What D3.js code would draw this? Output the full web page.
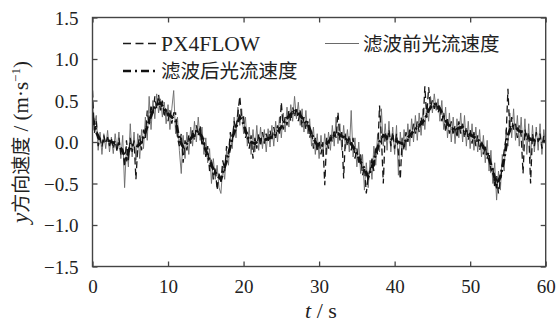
<!DOCTYPE html>
<html>
<head>
<meta charset="utf-8">
<script src="https://cdn.jsdelivr.net/npm/d3@7"></script>
<style>
  html, body { margin: 0; padding: 0; background: #fff; }
  svg { display: block; }
  text { fill: #222; }
</style>
</head>
<body>
<svg id="chart" width="557" height="327"></svg>
<script>
// Sampling interval of the velocity records (s)
const sampleStep = 0.25;

// Optical-flow velocity before filtering (m/s), one value every 0.25 s
const rawFlow = [
  0.45, 0.20, 0.32, -0.10,   0.12, -0.15, 0.10, -0.08,   0.14, -0.12, 0.06, -0.14,
  0.10, -0.10, 0.12, -0.20,  0.08, -0.55, -0.05, -0.30,  0.22, -0.18, 0.12, -0.22,
  0.10, -0.20, 0.15, -0.08,  0.30, 0.02, 0.55, 0.15,     0.50, 0.28, 0.58, 0.35,
  0.52, 0.30, 0.48, 0.22,    0.45, 0.15, 0.40, 0.62,     0.10, 0.30, -0.10, -0.38,
  0.08, -0.20, 0.12, -0.15,  0.18, -0.05, 0.25, 0.00,    0.30, 0.02, 0.18, -0.15,
  0.05, -0.25, -0.08, -0.50, -0.20, -0.45, -0.28, -0.55, -0.62, -0.30, -0.45, -0.10,
  -0.28, 0.08, -0.08, 0.30,  0.05, 0.42, 0.20, 0.40,     0.10, 0.30, -0.05, 0.18,
  -0.15, 0.15, -0.12, 0.20,  -0.10, 0.18, -0.08, 0.15,   -0.12, 0.16, -0.06, 0.20,
  -0.05, 0.25, 0.00, 0.30,   0.05, 0.35, 0.12, 0.42,     0.18, 0.45, 0.25, 0.55,
  0.28, 0.48, 0.20, 0.40,    0.12, 0.38, 0.10, 0.28,     -0.05, 0.18, -0.15, 0.10,
  -0.20, 0.08, -0.18, 0.10,  -0.15, 0.12, -0.10, 0.20,   -0.05, 0.30, -0.02, 0.22,
  -0.10, 0.20, -0.08, 0.15,  -0.12, 0.38, -0.18, 0.05,   -0.30, 0.00, -0.38, -0.15,
  -0.58, -0.25, -0.55, -0.22, -0.45, -0.05, -0.28, 0.10, -0.12, 0.40, -0.05, 0.22,
  -0.10, 0.25, -0.12, 0.18,  -0.15, 0.20, -0.40, 0.12,   -0.18, 0.15, -0.10, 0.22,
  -0.05, 0.28, 0.00, 0.32,   0.02, 0.35, 0.08, 0.40,     0.15, 0.45, 0.25, 0.55,
  0.35, 0.58, 0.38, 0.52,    0.25, 0.50, 0.15, 0.42,     0.05, 0.35, 0.00, 0.30,
  -0.02, 0.28, 0.05, 0.35,   0.00, 0.32, -0.05, 0.25,    -0.08, 0.22, -0.10, 0.18,
  -0.12, 0.15, -0.18, 0.08,  -0.25, 0.02, -0.35, -0.10,  -0.50, -0.25, -0.70, -0.35,
  -0.58, -0.15, -0.35, 0.15, -0.05, 0.35, 0.05, 0.40,    0.02, 0.32, -0.05, 0.30,
  -0.10, 0.28, -0.15, 0.22,  -0.20, 0.20, -0.12, 0.18,   -0.10, 0.22, -0.15, 0.15,
  -0.05
];

// PX4FLOW sensor velocity (m/s), one value every 0.25 s
const px4Flow = [
  0.62, 0.10, 0.25, -0.05,   0.05, -0.06, 0.08, -0.02,   0.06, -0.05, 0.04, -0.08,
  0.02, -0.12, 0.05, -0.15,  -0.08, -0.30, 0.02, -0.22,  0.05, -0.12, 0.02, -0.45,
  -0.05, 0.08, -0.10, 0.15,  0.05, 0.38, 0.20, 0.45,     0.32, 0.55, 0.40, 0.57,
  0.38, 0.50, 0.30, 0.42,    0.25, 0.38, 0.22, 0.35,     0.35, 0.05, -0.05, 0.10,
  -0.25, 0.02, -0.10, 0.08,  -0.02, 0.15, 0.02, 0.20,    0.08, 0.20, -0.05, 0.05,
  -0.18, -0.05, -0.35, -0.20, -0.45, -0.30, -0.58, -0.38, -0.48, -0.22, -0.35, -0.05,
  -0.15, 0.12, 0.00, 0.25,   0.15, 0.35, 0.55, 0.28,     0.30, 0.05, 0.12, -0.08,
  0.08, -0.20, 0.05, -0.08,  0.10, -0.05, 0.12, -0.02,   0.10, 0.00, 0.14, 0.02,
  0.18, 0.05, 0.20, 0.10,    0.48, 0.15, 0.30, 0.20,     0.38, 0.25, 0.42, 0.30,
  0.42, 0.25, 0.38, 0.18,    0.30, 0.15, 0.25, 0.05,     0.15, -0.08, 0.05, -0.12,
  0.02, -0.15, 0.00, -0.52,  0.05, -0.08, 0.10, 0.00,    0.15, 0.05, 0.36, 0.02,
  0.12, -0.44, 0.10, -0.05,  0.08, -0.10, 0.05, -0.20,   -0.08, -0.25, -0.15, -0.40,
  -0.30, -0.62, -0.40, -0.35, -0.20, -0.35, -0.05, -0.15, 0.44, 0.05, -0.50, 0.12,
  0.00, 0.15, -0.05, 0.12,   -0.08, 0.10, -0.12, -0.45,  0.05, -0.10, 0.12, 0.00,
  0.15, 0.05, 0.22, 0.10,    0.25, 0.12, 0.30, 0.18,     0.67, 0.30, 0.66, 0.42,
  0.50, 0.40, 0.48, 0.35,    0.45, 0.25, 0.35, 0.12,     0.28, 0.10, 0.25, 0.08,
  0.20, 0.05, 0.25, 0.10,    0.22, 0.05, 0.18, 0.02,     0.15, -0.02, 0.12, -0.05,
  0.08, -0.10, 0.02, -0.15,  -0.05, -0.20, -0.12, -0.35, -0.30, -0.55, -0.40, -0.62,
  -0.45, -0.30, -0.10, 0.05, 0.64, 0.12, 0.30, 0.15,     0.22, 0.05, 0.20, 0.08,
  -0.38, 0.15, 0.02, 0.12,   -0.50, 0.10, -0.05, 0.12,   0.00, 0.10, -0.08, 0.08,
  0.02
];

// Sampling interval of the filtered record (s)
const filteredStep = 0.5;

// Optical-flow velocity after filtering (m/s), one value every 0.5 s
const filteredFlow = [
  0.30, 0.12, 0.02, 0.01, 0.02, 0.00, -0.01, -0.03, -0.12, -0.20,
  -0.05, -0.03, -0.05, 0.00, 0.12, 0.25, 0.38, 0.45, 0.47, 0.40,
  0.34, 0.30, 0.26, 0.02, -0.06, -0.02, 0.04, 0.10, 0.14, 0.06,
  -0.10, -0.22, -0.33, -0.40, -0.45, -0.30, -0.15, 0.05, 0.18, 0.30,
  0.22, 0.06, 0.00, -0.02, 0.02, 0.04, 0.03, 0.05, 0.07, 0.12,
  0.18, 0.26, 0.31, 0.36, 0.38, 0.32, 0.26, 0.22, 0.10, 0.00,
  -0.06, -0.04, -0.02, 0.03, 0.08, 0.10, 0.07, 0.05, 0.02, -0.06,
  -0.14, -0.24, -0.32, -0.42, -0.30, -0.14, 0.00, 0.08, 0.06, 0.04,
  0.02, 0.00, -0.02, 0.02, 0.08, 0.13, 0.18, 0.22, 0.27, 0.38,
  0.45, 0.46, 0.40, 0.30, 0.22, 0.17, 0.14, 0.17, 0.18, 0.12,
  0.09, 0.06, 0.03, -0.02, -0.10, -0.20, -0.35, -0.52, -0.42, -0.20,
  0.08, 0.20, 0.18, 0.13, 0.12, 0.08, 0.03, 0.02, 0.04, 0.02,
  0.00
];

// Axis ticks
const xTicks = [0, 10, 20, 30, 40, 50, 60];
const yTicks = [-1.5, -1.0, -0.5, 0.0, 0.5, 1.0, 1.5];

// Legend entries
const legendLabels = ["PX4FLOW", "滤波前光流速度", "滤波后光流速度"];

const SERIF = "Liberation Serif";
const CJK = "Noto Sans CJK SC";

const svg = d3.select("#chart");
const W = 557, H = 327;
const margin = { left: 92.5, right: W - 545.7, top: 17.5, bottom: H - 266.5 };
const iw = W - margin.left - margin.right;
const ih = H - margin.top - margin.bottom;

const x = d3.scaleLinear().domain([0, 60]).range([margin.left, margin.left + iw]);
const y = d3.scaleLinear().domain([-1.5, 1.5]).range([margin.top + ih, margin.top]);

const fmtY = v => (v < 0 ? "\u2212" : "") + Math.abs(v).toFixed(1);

svg.append("defs").append("clipPath").attr("id", "plotClip")
  .append("rect").attr("x", margin.left).attr("y", margin.top)
  .attr("width", iw).attr("height", ih);

const toPoints = (vals, step) => vals.map((v, i) => [i * step, v]);
const line = d3.line().x(d => x(d[0])).y(d => y(d[1]));

const plot = svg.append("g").attr("clip-path", "url(#plotClip)");

// Unfiltered optical flow: thin grey trace
plot.append("path")
  .attr("d", line(toPoints(rawFlow, sampleStep)))
  .attr("fill", "none").attr("stroke", "#6a6a6a").attr("stroke-width", 0.9)
  .attr("stroke-linejoin", "round");

// PX4FLOW: dashed black trace
plot.append("path")
  .attr("d", line(toPoints(px4Flow, sampleStep)))
  .attr("fill", "none").attr("stroke", "#151515").attr("stroke-width", 1.3)
  .attr("stroke-dasharray", "7,4");

// Filtered optical flow: heavy dash-dot trace
plot.append("path")
  .attr("d", line(toPoints(filteredFlow, filteredStep)))
  .attr("fill", "none").attr("stroke", "#111").attr("stroke-width", 2.8)
  .attr("stroke-dasharray", "8,3,2,3");

// Frame
const frameColor = "#444";
svg.append("rect")
  .attr("x", margin.left).attr("y", margin.top)
  .attr("width", iw).attr("height", ih)
  .attr("fill", "none").attr("stroke", frameColor).attr("stroke-width", 1.4);

// Axes with inward ticks on all four sides
const tickLen = 5;
const gx = svg.append("g")
  .attr("transform", `translate(0,${margin.top + ih})`)
  .call(d3.axisBottom(x).tickValues(xTicks).tickSize(-tickLen).tickPadding(tickLen + 8).tickFormat(d3.format("d")));
const gxTop = svg.append("g")
  .attr("transform", `translate(0,${margin.top})`)
  .call(d3.axisTop(x).tickValues(xTicks).tickSize(-tickLen).tickFormat(""));
const gy = svg.append("g")
  .attr("transform", `translate(${margin.left},0)`)
  .call(d3.axisLeft(y).tickValues(yTicks).tickSize(-tickLen).tickPadding(tickLen + 9).tickFormat(fmtY));
const gyRight = svg.append("g")
  .attr("transform", `translate(${margin.left + iw},0)`)
  .call(d3.axisRight(y).tickValues(yTicks).tickSize(-tickLen).tickFormat(""));

[gx, gxTop, gy, gyRight].forEach(g => {
  g.attr("font-family", SERIF).attr("font-size", 19);
  g.select(".domain").remove();
  g.selectAll(".tick line").attr("stroke", frameColor).attr("stroke-width", 1.3);
  g.selectAll(".tick text")
    .attr("fill", "#222")
    .attr("font-family", SERIF)
    .attr("font-size", 19);
});
gy.selectAll(".tick text").attr("dy", "0.35em");

// Axis titles
const xTitle = svg.append("text")
  .attr("x", 321).attr("y", 318)
  .attr("text-anchor", "middle")
  .attr("font-family", SERIF)
  .attr("font-size", 22);
xTitle.append("tspan").attr("font-style", "italic").text("t");
xTitle.append("tspan").text(" / s");

const yTitle = svg.append("text")
  .attr("transform", "translate(28,142) rotate(-90)")
  .attr("text-anchor", "middle")
  .attr("font-family", SERIF)
  .attr("font-size", 21);
yTitle.append("tspan").attr("font-style", "italic").attr("font-size", 23).text("y");
yTitle.append("tspan").attr("font-family", CJK).attr("font-size", 19).text("方向速度");
yTitle.append("tspan").text(" / (m\u00b7s");
yTitle.append("tspan").attr("dy", -8).attr("font-size", 13).text("\u22121");
yTitle.append("tspan").attr("dy", 8).text(")");

// Legend
const legend = svg.append("g");
const legendItems = [
  { label: legendLabels[0], x: 123, y: 43.5, dash: "8,4.5", width: 1.4, color: "#1a1a1a", cjk: false },
  { label: legendLabels[1], x: 325, y: 43.5, dash: null, width: 1.2, color: "#6a6a6a", cjk: true },
  { label: legendLabels[2], x: 123, y: 71, dash: "8,4,2,4", width: 2.6, color: "#111", cjk: true }
];
legendItems.forEach(d => {
  legend.append("line")
    .attr("x1", d.x).attr("x2", d.x + 34)
    .attr("y1", d.y).attr("y2", d.y)
    .attr("stroke", d.color).attr("stroke-width", d.width)
    .attr("stroke-dasharray", d.dash);
  legend.append("text")
    .attr("x", d.x + 38).attr("y", d.y)
    .attr("dy", d.cjk ? "0.36em" : "0.34em")
    .attr("font-family", d.cjk ? CJK : SERIF)
    .attr("font-size", d.cjk ? 19.5 : 21.5)
    .text(d.label);
});
</script>
</body>
</html>
